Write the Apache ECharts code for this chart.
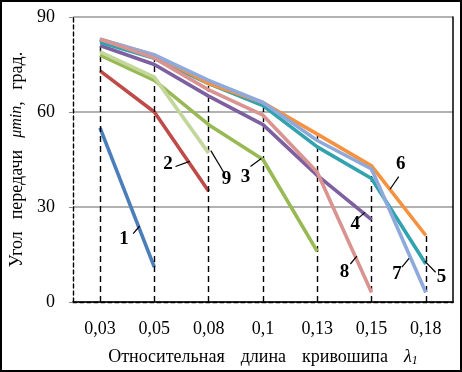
<!DOCTYPE html>
<html><head><meta charset="utf-8">
<script src="https://cdn.jsdelivr.net/npm/echarts@6/dist/echarts.min.js"></script>
<style>html,body{margin:0;padding:0;background:#fff}#c{width:462px;height:372px}</style>
</head><body><div id="c"></div>
<script>
var categories = ['0,03','0,05','0,08','0,1','0,13','0,15','0,18'];
var yTicks = [0, 30, 60, 90];
var s1 = [55, 11, null, null, null, null, null];
var s2 = [73, 60, 35, null, null, null, null];
var s3 = [78, 70, 56, 45, 16, null, null];
var s4 = [81, 75, 65, 56, 40, 26, null];
var s5 = [82, 77, 69, 62, 49, 39, 12];
var s6 = [83, 78, 69, 63, 53, 43, 21];
var s7 = [83, 78, 70, 63, 51, 42, 3];
var s8 = [83, 77, 67, 59, 41, 3, null];
var s9 = [79, 71, 47, null, null, null, null];
var seriesNames = ['1','2','3','4','5','6','7','8','9'];
var seriesData = [s1, s2, s3, s4, s5, s6, s7, s8, s9];
var colors = ['#4A7EBB','#BE4B48','#98B954','#7D60A0','#31A2AE','#F59240','#8EA9DB','#D99391','#C3D69B'];
// annotation labels: [text, labelIdx, labelVal, lineFromIdx, lineFromVal, lineToIdx, lineToVal]
var annotations = [
  ['1', 0.44, 19.8, 0.61, 21.6, 0.73, 24.0],
  ['2', 1.25, 43.7, 1.39, 42.8, 1.65, 44.4],
  ['9', 2.33, 38.7, 2.04, 47.8, 2.28, 40.9],
  ['3', 2.68, 39.3, 2.77, 42.8, 2.97, 45.3],
  ['4', 4.70, 24.5, 4.73, 26.1, 4.88, 28.3],
  ['8', 4.50, 9.4, 4.61, 12.0, 4.73, 14.5],
  ['7', 5.47, 8.8, 5.56, 11.0, 5.69, 13.8],
  ['5', 6.29, 7.9, 6.18, 9.4, 5.98, 12.9],
  ['6', 5.54, 43.4, 5.50, 39.6, 5.34, 35.6]
];

var maxPerCat = categories.map(function(c, i){
  var m = 0;
  seriesData.forEach(function(s){ if (s[i] != null && s[i] > m) m = s[i]; });
  return m;
});

var serif = '"Liberation Serif","Times New Roman",serif';
var chart = echarts.init(document.getElementById('c'));

var series = seriesData.map(function(d, k){
  return {
    name: seriesNames[k], type: 'line', data: d, symbol: 'none', smooth: false,
    connectNulls: false, z: 3 + k,
    lineStyle: { color: colors[k], width: 3.6 }, itemStyle: { color: colors[k] }
  };
});
series.unshift({
  name: 'drop', type: 'line', data: [], symbol: 'none', z: 10,
  markLine: {
    silent: true, symbol: 'none', label: { show: false },
    lineStyle: { color: '#000', type: [6, 4], width: 1.4 },
    data: maxPerCat.map(function(m, i){ return [{ coord: [i, 0] }, { coord: [i, m] }]; })
  }
});

chart.setOption({
  animation: false,
  backgroundColor: '#fff',
  grid: { left: 71, right: 9, top: 17, bottom: 69, containLabel: false },
  xAxis: [{
    type: 'category', data: categories, boundaryGap: true,
    axisLine: { lineStyle: { color: '#000', type: [4, 3], width: 1.4 } },
    axisTick: { show: false },
    axisLabel: { fontFamily: serif, fontSize: 18, color: '#000', margin: 18 },
    name: '{w|Относительная}{w|длина}{w|кривошипа}{l|λ}{s|1}',
    nameLocation: 'middle', nameGap: 45,
    nameTextStyle: { rich: {
      w: { fontFamily: serif, fontSize: 18, color: '#000', padding: [0, 16, 0, 0] },
      l: { fontFamily: serif, fontSize: 18, fontStyle: 'italic', color: '#000' },
      s: { fontFamily: serif, fontSize: 12, fontStyle: 'italic', color: '#000', verticalAlign: 'bottom', padding: [8, 0, 0, 0] }
    } }
  }, {
    type: 'category', data: categories, position: 'top',
    axisLine: { lineStyle: { color: '#000', width: 1.5 } },
    axisTick: { show: false }, axisLabel: { show: false }
  }],
  yAxis: [{
    type: 'value', min: 0, max: 90, interval: 30,
    axisLine: { show: true, lineStyle: { color: '#000', type: [4, 3], width: 1.4 } },
    axisTick: { show: true, length: 4, lineStyle: { color: '#888' } },
    splitLine: { show: true, lineStyle: { color: '#999', width: 1.5 } },
    axisLabel: { fontFamily: serif, fontSize: 18, color: '#000', margin: 18,
      formatter: function(v){ return yTicks.indexOf(v) >= 0 ? String(v) : ''; } },
    name: '{w|Угол}{w|передачи}{b|μmin}{a|,}{g| }{a|град.}',
    nameLocation: 'middle', nameGap: 46, nameRotate: 90,
    nameTextStyle: { rich: {
      w: { fontFamily: serif, fontSize: 18, color: '#000', padding: [0, 12, 0, 0] },
      a: { fontFamily: serif, fontSize: 18, color: '#000' },
      g: { fontFamily: serif, fontSize: 18, color: '#000', padding: [0, 7, 0, 0] },
      b: { fontFamily: serif, fontSize: 16, fontStyle: 'italic', color: '#000' }
    } }
  }, {
    type: 'value', min: 0, max: 90, interval: 30, position: 'right',
    axisLine: { show: true, lineStyle: { color: '#000', width: 1.5 } },
    axisTick: { show: false }, axisLabel: { show: false }, splitLine: { show: false }
  }],
  series: series
});

function px(idx, val){
  var x0 = chart.convertToPixel({ xAxisIndex: 0 }, 0);
  var x1 = chart.convertToPixel({ xAxisIndex: 0 }, 1);
  var y = chart.convertToPixel({ yAxisIndex: 0 }, val);
  return [x0 + (x1 - x0) * idx, y];
}

var g = [{
  type: 'rect', shape: { x: 1, y: 1, width: 460, height: 370 },
  style: { fill: 'none', stroke: '#000', lineWidth: 2 }, z: 100
}];
annotations.forEach(function(a){
  var p = px(a[1], a[2]), f = px(a[3], a[4]), t = px(a[5], a[6]);
  g.push({ type: 'text', x: p[0], y: p[1], z: 100,
    style: { text: a[0], font: 'bold 19px ' + serif, fill: '#000', align: 'center', verticalAlign: 'middle' } });
  g.push({ type: 'line', z: 100, shape: { x1: f[0], y1: f[1], x2: t[0], y2: t[1] },
    style: { stroke: '#000', lineWidth: 1.2 } });
});
chart.setOption({ graphic: g });
</script></body></html>
